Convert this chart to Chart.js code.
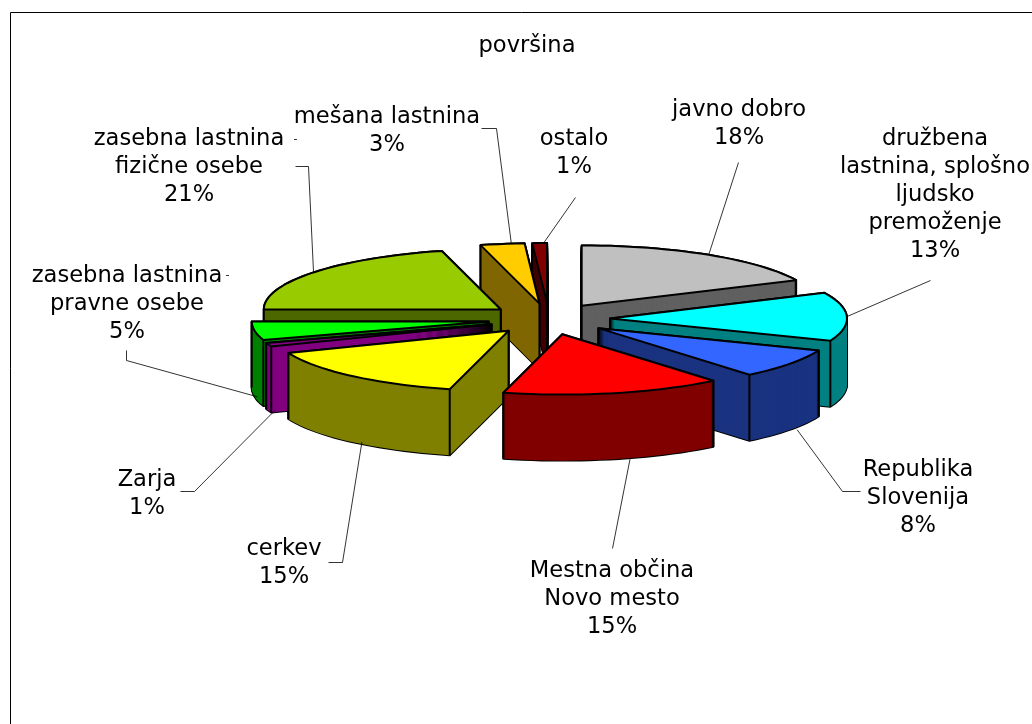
<!DOCTYPE html>
<html><head><meta charset="utf-8">
<style>html,body{margin:0;padding:0;background:#fff;overflow:hidden}canvas{display:block}</style>
<script src="https://cdn.jsdelivr.net/npm/chart.js@4"></script>
</head><body><canvas id="c" width="1032" height="724" style="width:1032px;height:724px"></canvas>
<script>
const categories = ['javno dobro','družbena lastnina, splošno ljudsko premoženje','Republika Slovenija','Mestna občina Novo mesto','cerkev','Zarja','zasebna lastnina pravne osebe','zasebna lastnina fizične osebe','mešana lastnina','ostalo'];
const values = [18,13,8,15,15,1,5,21,3,1];
const topColors = ['#C0C0C0','#00FFFF','#3366FF','#FF0000','#FFFF00','#800080','#00FF00','#99CC00','#FFCC00','#800000'];
const sideColors = ['#606060','#008080','#1A3380','#800000','#808000','#800080','#008000','#4D6600','#806600','#400000'];
const labelLines = [
  ['javno dobro','18%'],
  ['družbena','lastnina, splošno','ljudsko','premoženje','13%'],
  ['Republika','Slovenija','8%'],
  ['Mestna občina','Novo mesto','15%'],
  ['cerkev','15%'],
  ['Zarja','1%'],
  ['zasebna lastnina','pravne osebe','5%'],
  ['zasebna lastnina','fizične osebe','21%'],
  ['mešana lastnina','3%'],
  ['ostalo','1%']
];
const labelLayout = [
  {x:739,y:110,leader:[[738,162]],low:0,dx:0},
  {x:935,y:139,leader:[[930,280]],low:0,dx:0},
  {x:918,y:470,leader:[[842,491],[860,491]],low:1,dx:7},
  {x:612,y:571,leader:[[612,548]],low:1,dx:16},
  {x:284,y:549,leader:[[342,562],[328,562]],low:1,dx:10},
  {x:147,y:480,leader:[[194,491],[180,491]],low:1,dx:6},
  {x:127,y:276,leader:[[126,360],[126,350]],low:1,dx:3,tick:[226,275]},
  {x:189,y:139,leader:[[308,166],[295,166]],low:0,dx:0,tick:[294,139]},
  {x:387,y:117,leader:[[496,128],[481,128]],low:0,dx:9},
  {x:574,y:139,leader:[[575,197]],low:0,dx:4}
];
const drawOrder = [9,8,0,7,1,6,5,2,4,3];
const pieX = 549, pieY = 319, squash = 0.255, depth = 66, explode = 61, rimRadius = 237;
const lineH = 28;

const midOf = arc => (arc.startAngle+arc.endAngle)/2;
// Lays a library arc down on the tilted plane, pushed out along its own mid-angle.
function place(ctx,dz,arc){
  const m=midOf(arc);
  ctx.translate(pieX, pieY+dz);
  ctx.scale(1,squash);
  ctx.translate(Math.cos(m)*explode-arc.x, Math.sin(m)*explode-arc.y);
}
function project(arc,angle,radius,dz){
  const m=midOf(arc);
  return [pieX+Math.cos(m)*explode+Math.cos(angle)*radius,
          pieY+dz+(Math.sin(m)*explode+Math.sin(angle)*radius)*squash];
}
function outline(arc,dz){
  const p=new Path2D(), a0=project(arc,0,0,dz);
  p.moveTo(a0[0],a0[1]);
  const span=arc.endAngle-arc.startAngle, n=Math.max(2,Math.ceil(span*24));
  for(let i=0;i<=n;i++){
    const q=project(arc,arc.startAngle+span*i/n,arc.outerRadius,dz);
    p.lineTo(q[0],q[1]);
  }
  p.closePath();
  return p;
}
const pie3d = {
  id:'pie3d',
  beforeDatasetDraw(chart){
    const ctx = chart.ctx, arcs = chart.getDatasetMeta(0).data;
    for(const i of drawOrder){
      const arc=arcs[i], base=arc.options;
      ctx.save();
      ctx.lineWidth=2; ctx.strokeStyle='#000'; ctx.lineJoin='round';
      for(let dz=depth;dz>=0;dz--) ctx.stroke(outline(arc,dz));
      arc.options=Object.assign({},base,{backgroundColor:sideColors[i],borderWidth:0});
      for(let dz=depth;dz>=1;dz--){ ctx.save(); place(ctx,dz,arc); arc.draw(ctx); ctx.restore(); }
      const top=outline(arc,0);
      ctx.beginPath();
      const corners=[project(arc,arc.startAngle,arc.outerRadius,0),project(arc,arc.endAngle,arc.outerRadius,0),project(arc,0,0,0)];
      for(const c of corners){
        if(ctx.isPointInPath(top,c[0],c[1]+3)) continue;
        ctx.moveTo(c[0],c[1]); ctx.lineTo(c[0],c[1]+depth);
      }
      ctx.stroke();
      arc.options=Object.assign({},base,{backgroundColor:topColors[i],borderWidth:0});
      ctx.save(); place(ctx,0,arc); arc.draw(ctx); ctx.restore();
      arc.options=base;
      ctx.stroke(top);
      ctx.restore();
    }
    return false;
  },
  afterDraw(chart){
    const ctx=chart.ctx, arcs=chart.getDatasetMeta(0).data;
    ctx.save();
    ctx.strokeStyle='#000'; ctx.lineWidth=1;
    ctx.beginPath(); ctx.moveTo(10.5,724); ctx.lineTo(10.5,12.5); ctx.lineTo(1032,12.5); ctx.stroke();
    ctx.lineWidth=0.8;
    arcs.forEach((arc,i)=>{
      const L=labelLayout[i], r=project(arc,midOf(arc),arc.outerRadius,L.low?depth:0);
      ctx.beginPath(); ctx.moveTo(r[0]+L.dx,r[1]);
      L.leader.forEach(p=>ctx.lineTo(p[0]+.5,p[1]+.5));
      if(L.tick){ ctx.moveTo(L.tick[0],L.tick[1]+.5); ctx.lineTo(L.tick[0]+3,L.tick[1]+.5); }
      ctx.stroke();
    });
    ctx.fillStyle='#000'; ctx.font='22.6px "DejaVu Sans"'; ctx.textAlign='center'; ctx.textBaseline='middle';
    labelLines.forEach((lines,i)=>{
      const L=labelLayout[i];
      lines.forEach((t,j)=>ctx.fillText(t,L.x,L.y+j*lineH));
    });
    ctx.restore();
  }
};
new Chart(document.getElementById('c'),{
  type:'pie',
  data:{labels:categories,datasets:[{data:values,backgroundColor:topColors,borderWidth:0,radius:rimRadius}]},
  options:{
    responsive:false,animation:false,
    layout:{padding:{left:22}},
    plugins:{
      legend:{display:false},tooltip:{enabled:false},
      title:{display:true,text:'površina',color:'#000',font:{family:'"DejaVu Sans"',size:22.6,weight:'normal'},padding:{top:33,bottom:0}}
    }
  },
  plugins:[pie3d,{id:'bg',beforeDraw(c){c.ctx.save();c.ctx.fillStyle='#fff';c.ctx.fillRect(0,0,1032,724);c.ctx.restore();}}]
});
</script></body></html>
